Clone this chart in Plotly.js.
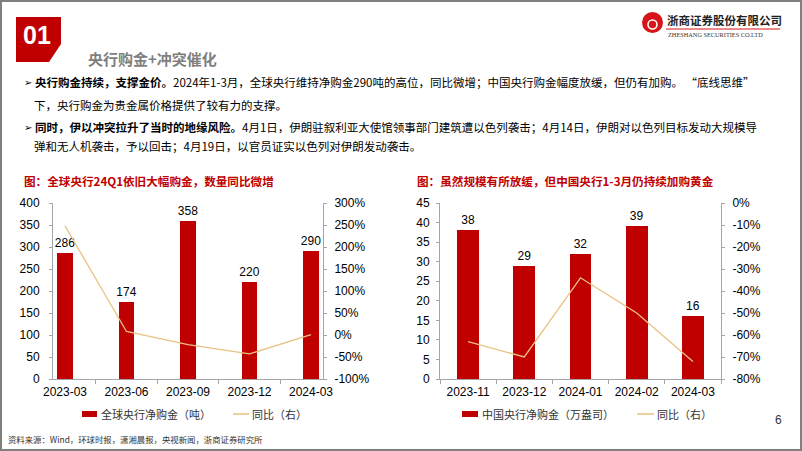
<!DOCTYPE html>
<html><head><meta charset="utf-8">
<script src="https://cdn.plot.ly/plotly-3.0.1.min.js"></script>
<style>html,body{margin:0;padding:0;background:#fff;}#chart{width:802px;height:451px;}</style>
</head><body><div id="chart"></div>
<script>
// ---- data ----
const leftCategories = ['2023-03','2023-06','2023-09','2023-12','2024-03'];
const leftBarValues = [286,174,358,220,290];
const leftYoY = [248, 8, -22, -43, 1];
const leftAxisTicks = [0,50,100,150,200,250,300,350,400];
const leftPctTicks = [-100,-50,0,50,100,150,200,250,300];

const rightCategories = ['2023-11','2023-12','2024-01','2024-02','2024-03'];
const rightBarValues = [38,29,32,39,16];
const rightYoY = [-63,-70,-34,-50,-72];
const rightAxisTicks = [0,5,10,15,20,25,30,35,40,45];
const rightPctTicks = [-80,-70,-60,-50,-40,-30,-20,-10,0];

const leftBarName = '全球央行净购金（吨）';
const rightBarName = '中国央行净购金（万盎司）';
const lineName = '同比（右）';
const leftTitle = '图：全球央行24Q1依旧大幅购金，数量同比微增';
const rightTitle = '图：虽然规模有所放缓，但中国央行1-3月仍持续加购黄金';

// ---- helpers ----
const W = 802, H = 451;
const px = x => x / W;
const py = y => 1 - y / H;
const RED = '#C00000';
const GOLD = '#E8C282';
const AXIS = '#A6A6A6';
const CJK = '"Noto Sans CJK SC", "Noto Sans", sans-serif';
const LAT = '"Liberation Sans", Arial, sans-serif';
const pct = v => v + '%';

function ann(text, x, y, opts) {
  return Object.assign({text, x: px(x), y: py(y), xref: 'paper', yref: 'paper',
    showarrow: false, xanchor: 'left', yanchor: 'middle',
    font: {family: CJK, size: 11.5, color: '#000'}}, opts || {});
}

const traces = [
  {type: 'bar', x: leftCategories, y: leftBarValues, xaxis: 'x', yaxis: 'y',
   marker: {color: RED}, width: 0.245, text: leftBarValues.map(String),
   textposition: 'outside', cliponaxis: false, constraintext: 'none',
   textfont: {family: LAT, size: 12, color: '#000'}, showlegend: false, name: leftBarName},
  {type: 'scatter', mode: 'lines', x: leftCategories, y: leftYoY, xaxis: 'x', yaxis: 'y2',
   line: {color: GOLD, width: 1.3}, showlegend: false, name: lineName},
  {type: 'bar', x: rightCategories, y: rightBarValues, xaxis: 'x2', yaxis: 'y3',
   marker: {color: RED}, width: 0.39, text: rightBarValues.map(String),
   textposition: 'outside', cliponaxis: false, constraintext: 'none',
   textfont: {family: LAT, size: 12, color: '#000'}, showlegend: false, name: rightBarName},
  {type: 'scatter', mode: 'lines', x: rightCategories, y: rightYoY, xaxis: 'x2', yaxis: 'y4',
   line: {color: GOLD, width: 1.3}, showlegend: false, name: lineName}
];

const yDom = [py(379), py(203)];
const tickFont = {family: LAT, size: 12, color: '#000'};
const baseY = {showgrid: false, zeroline: false, showline: true, linecolor: AXIS, linewidth: 1,
  ticks: 'outside', ticklen: 3, tickcolor: AXIS, tickfont: tickFont, fixedrange: true, tickmode: 'array'};
const baseX = {type: 'category', showgrid: false, zeroline: false, showline: true, linecolor: AXIS,
  linewidth: 1, ticks: 'outside', tickson: 'boundaries', ticklen: 4, tickcolor: AXIS,
  tickfont: tickFont, ticklabelstandoff: 2};

const layout = {
  width: W, height: H, margin: {l: 0, r: 0, t: 0, b: 0},
  paper_bgcolor: '#fff', plot_bgcolor: 'rgba(0,0,0,0)', showlegend: false, bargap: 0,
  xaxis: Object.assign({}, baseX, {domain: [px(53), px(323)], range: [-0.195, 4.195], anchor: 'y'}),
  yaxis: Object.assign({}, baseY, {domain: yDom, range: [0, 400], tickvals: leftAxisTicks,
    ticktext: leftAxisTicks.map(String), anchor: 'x', ticklabelstandoff: 7}),
  yaxis2: Object.assign({}, baseY, {overlaying: 'y', side: 'right', anchor: 'x', range: [-100, 300],
    tickvals: leftPctTicks, ticktext: leftPctTicks.map(pct), ticklabelstandoff: 5}),
  xaxis2: Object.assign({}, baseX, {domain: [px(440), px(721)], range: [-0.5, 4.5], anchor: 'y3'}),
  yaxis3: Object.assign({}, baseY, {domain: yDom, range: [0, 45], tickvals: rightAxisTicks,
    ticktext: rightAxisTicks.map(String), anchor: 'x2', ticklabelstandoff: 4}),
  yaxis4: Object.assign({}, baseY, {overlaying: 'y3', side: 'right', anchor: 'x2', range: [-80, 0],
    tickvals: rightPctTicks, ticktext: rightPctTicks.map(pct), ticklabelstandoff: 5}),
  shapes: [
    {type: 'rect', xref: 'paper', yref: 'paper', x0: px(1), x1: px(801), y0: py(450), y1: py(1),
     line: {color: '#7F7F7F', width: 2}, fillcolor: 'rgba(0,0,0,0)'},
    {type: 'path', xref: 'paper', yref: 'paper',
     path: 'M' + px(16) + ',' + py(17) + ' L' + px(61) + ',' + py(17) + ' L' + px(61) + ',' + py(44) +
           ' L' + px(49) + ',' + py(62) + ' L' + px(16) + ',' + py(62) + ' Z',
     fillcolor: '#C00000', line: {width: 0}},
    {type: 'circle', xref: 'paper', yref: 'paper', x0: px(642), x1: px(663), y0: py(33), y1: py(12),
     fillcolor: '#D7141A', line: {width: 0}},
    {type: 'circle', xref: 'paper', yref: 'paper', x0: px(648), x1: px(657), y0: py(29), y1: py(20),
     fillcolor: 'rgba(0,0,0,0)', line: {color: '#fff', width: 1.6}},
    {type: 'line', xref: 'paper', yref: 'paper', x0: px(666), x1: px(780), y0: py(29), y1: py(29),
     line: {color: '#D7141A', width: 1}},
    {type: 'rect', xref: 'paper', yref: 'paper', x0: px(82), x1: px(97), y0: py(417), y1: py(411),
     fillcolor: RED, line: {width: 0}},
    {type: 'line', xref: 'paper', yref: 'paper', x0: px(233), x1: px(249), y0: py(414), y1: py(414),
     line: {color: GOLD, width: 1.5}},
    {type: 'rect', xref: 'paper', yref: 'paper', x0: px(462), x1: px(478), y0: py(417), y1: py(411),
     fillcolor: RED, line: {width: 0}},
    {type: 'line', xref: 'paper', yref: 'paper', x0: px(637), x1: px(654), y0: py(414), y1: py(414),
     line: {color: GOLD, width: 1.5}}
  ],
  annotations: [
    ann('<b>01</b>', 36.5, 35, {xanchor: 'center', font: {family: LAT, size: 25, color: '#fff'}}),
    ann('<b>央行购金+冲突催化</b>', 86, 58, {font: {family: CJK, size: 15, color: '#7F7F7F'}}),
    ann('<b>浙商证券股份有限公司</b>', 665, 20, {font: {family: CJK, size: 11.5, color: '#222'}}),
    ann('ZHESHANG SECURITIES CO.LTD', 666, 34, {font: {family: '"Liberation Serif", serif', size: 6.3, color: '#333'}}),
    ann('➢', 22, 82, {font: {family: '"DejaVu Sans", sans-serif', size: 10, color: '#000'}}),
    ann('<b>央行购金持续，支撑金价。</b>2024年1-3月，全球央行维持净购金290吨的高位，同比微增；中国央行购金幅度放缓，但仍有加购。 “底线思维”', 33, 82),
    ann('下，央行购金为贵金属价格提供了较有力的支撑。', 32, 105),
    ann('➢', 22, 127, {font: {family: '"DejaVu Sans", sans-serif', size: 10, color: '#000'}}),
    ann('<b>同时，伊以冲突拉升了当时的地缘风险。</b>4月1日，伊朗驻叙利亚大使馆领事部门建筑遭以色列袭击；4月14日，伊朗对以色列目标发动大规模导', 33, 127),
    ann('弹和无人机袭击，予以回击；4月19日，以官员证实以色列对伊朗发动袭击。', 32, 146),
    ann('<b>' + leftTitle + '</b>', 22, 181, {font: {family: CJK, size: 11.6, color: RED}}),
    ann('<b>' + rightTitle + '</b>', 415, 181, {font: {family: CJK, size: 11.6, color: RED}}),
    ann(leftBarName, 99, 414, {font: {family: CJK, size: 11, color: '#333'}}),
    ann(lineName, 250, 414, {font: {family: CJK, size: 11, color: '#333'}}),
    ann(rightBarName, 480, 414, {font: {family: CJK, size: 11, color: '#333'}}),
    ann(lineName, 655, 414, {font: {family: CJK, size: 11, color: '#333'}}),
    ann('资料来源：Wind，环球时报，潇湘晨报，央视新闻，浙商证券研究所', 6, 439, {font: {family: CJK, size: 8.4, color: '#333'}}),
    ann('6', 778, 420, {xanchor: 'center', font: {family: LAT, size: 12, color: '#333'}})
  ]
};

Plotly.newPlot('chart', traces, layout, {staticPlot: true, displayModeBar: false});
</script></body></html>
